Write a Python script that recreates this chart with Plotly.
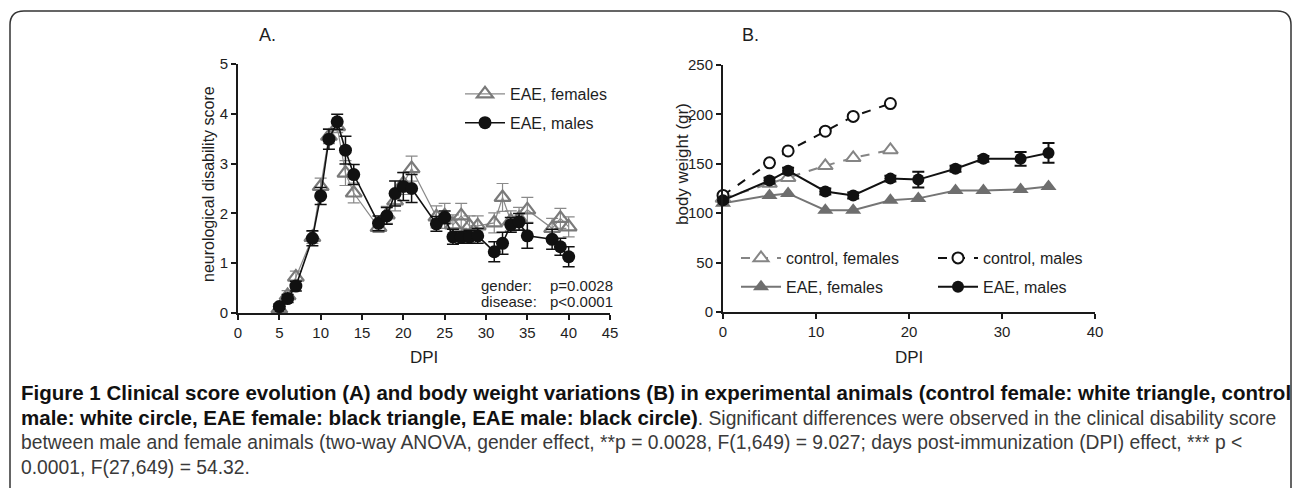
import plotly.graph_objects as go

W, H = 1293, 488

# ---------- Panel A data ----------
dpi_a = [5, 6, 7, 9, 10, 11, 12, 13, 14, 17, 18, 19, 20, 21, 24, 25, 26, 27, 28, 29, 31, 32, 33, 34, 35, 38, 39, 40]
score_males = [0.13, 0.29, 0.54, 1.50, 2.35, 3.49, 3.84, 3.27, 2.78, 1.80, 1.95, 2.40, 2.54, 2.50,
               1.79, 1.92, 1.53, 1.52, 1.53, 1.55, 1.23, 1.40, 1.77, 1.83, 1.55, 1.48, 1.33, 1.13]
sem_males = [0.05, 0.08, 0.10, 0.15, 0.17, 0.20, 0.15, 0.28, 0.20, 0.15, 0.17, 0.25, 0.28, 0.28,
             0.15, 0.13, 0.15, 0.12, 0.13, 0.15, 0.20, 0.22, 0.15, 0.17, 0.25, 0.20, 0.17, 0.20]
score_females = [0.08, 0.35, 0.72, 1.52, 2.54, 3.55, 3.74, 2.81, 2.41, 1.72, 1.97, 2.25, 2.60, 2.90,
                 1.93, 1.95, 1.77, 1.95, 1.75, 1.75, 1.81, 2.32, 1.85, 1.90, 2.07, 1.70, 1.90, 1.73]
sem_females = [0.05, 0.10, 0.12, 0.12, 0.17, 0.15, 0.12, 0.25, 0.20, 0.10, 0.17, 0.20, 0.22, 0.25,
               0.22, 0.25, 0.20, 0.25, 0.20, 0.20, 0.20, 0.28, 0.20, 0.22, 0.25, 0.20, 0.20, 0.20]

# ---------- Panel B data ----------
dpi_ctrl = [0, 5, 7, 11, 14, 18]
bw_ctrl_males = [118, 151, 163, 183, 198, 211]
bw_ctrl_females = [115, 130, 136, 148, 156, 164]
dpi_eae = [0, 5, 7, 11, 14, 18, 21, 25, 28, 32, 35]
bw_eae_males = [113, 133, 143, 122, 118, 135, 134, 145, 155, 155, 161]
sem_eae_males = [2, 3, 3, 3, 3, 3, 8, 3, 3, 7, 10]
bw_eae_females = [110, 118, 120, 103, 103, 113, 115, 123, 123, 124, 127]

x_ticks_a = [0, 5, 10, 15, 20, 25, 30, 35, 40, 45]
y_ticks_a = [0, 1, 2, 3, 4, 5]
x_ticks_b = [0, 10, 20, 30, 40]
y_ticks_b = [0, 50, 100, 150, 200, 250]

GREY = "#7a7a7a"
BLACK = "#111111"
FONT = "Liberation Sans, Arial, sans-serif"
TXT = "#1e1e1e"


def px(x):
    return x / W


def py(y):
    return 1 - y / H


fig = go.Figure()

# Panel A traces
fig.add_trace(go.Scatter(
    x=dpi_a, y=score_females, mode="lines+markers", name="EAE, females",
    line=dict(color="#8a8a8a", width=1.2),
    marker=dict(symbol="triangle-up-open", size=14, color=GREY, line=dict(width=2.2, color=GREY)),
    error_y=dict(type="data", array=sem_females, color="#8a8a8a", thickness=1.2, width=6),
    xaxis="x", yaxis="y", legend="legend", legendgroup="af", cliponaxis=False))
fig.add_trace(go.Scatter(
    x=dpi_a, y=score_males, mode="lines+markers", name="EAE, males",
    line=dict(color=BLACK, width=1.6),
    marker=dict(symbol="circle", size=13, color=BLACK),
    error_y=dict(type="data", array=sem_males, color=BLACK, thickness=1.5, width=6),
    xaxis="x", yaxis="y", legend="legend", legendgroup="am", cliponaxis=False))

# Panel B traces
fig.add_trace(go.Scatter(
    x=dpi_ctrl, y=bw_ctrl_females, mode="lines+markers", name="control, females",
    line=dict(color="#858585", width=2, dash="dash"),
    marker=dict(symbol="triangle-up", size=13, color="white", line=dict(width=2, color="#858585")),
    xaxis="x2", yaxis="y2", legend="legend2", legendgroup="cf", cliponaxis=False))
fig.add_trace(go.Scatter(
    x=dpi_eae, y=bw_eae_females, mode="lines+markers", name="EAE, females",
    line=dict(color="#757575", width=2),
    marker=dict(symbol="triangle-up", size=14, color="#6e6e6e"),
    xaxis="x2", yaxis="y2", legend="legend2", legendgroup="ef", cliponaxis=False))
fig.add_trace(go.Scatter(
    x=dpi_ctrl, y=bw_ctrl_males, mode="lines+markers", name="control, males",
    line=dict(color=BLACK, width=2, dash="dash"),
    marker=dict(symbol="circle", size=11, color="white", line=dict(width=2, color=BLACK)),
    xaxis="x2", yaxis="y2", legend="legend3", legendgroup="cm", cliponaxis=False))
fig.add_trace(go.Scatter(
    x=dpi_eae, y=bw_eae_males, mode="lines+markers", name="EAE, males",
    line=dict(color=BLACK, width=2),
    marker=dict(symbol="circle", size=12, color=BLACK),
    error_y=dict(type="data", array=sem_eae_males, color=BLACK, thickness=2, width=6),
    xaxis="x2", yaxis="y2", legend="legend3", legendgroup="em", cliponaxis=False))

axis_common = dict(showline=True, linewidth=2, linecolor="#1a1a1a", ticks="outside", ticklen=5,
                   tickwidth=2, tickcolor="#1a1a1a", showgrid=False, zeroline=False,
                   tickfont=dict(family=FONT, size=15, color=TXT))

legend_common = dict(font=dict(family=FONT, size=16, color=TXT), bgcolor="rgba(0,0,0,0)",
                     traceorder="grouped", tracegroupgap=5, itemwidth=40,
                     xanchor="left", yanchor="top")

fig.update_layout(
    width=W, height=H, margin=dict(l=0, r=0, t=0, b=0, autoexpand=False),
    paper_bgcolor="white", plot_bgcolor="white",
    xaxis=dict(domain=[px(238), px(610)], range=[0, 45], tickvals=x_ticks_a, anchor="y", **axis_common),
    yaxis=dict(domain=[py(313), py(64)], range=[0, 5], tickvals=y_ticks_a, anchor="x", **axis_common),
    xaxis2=dict(domain=[px(723), px(1095)], range=[0, 40], tickvals=x_ticks_b, anchor="y2", **axis_common),
    yaxis2=dict(domain=[py(312), py(65)], range=[0, 250], tickvals=y_ticks_b, anchor="x2", **axis_common),
    legend=dict(x=px(460), y=py(77), **legend_common),
    legend2=dict(x=px(736), y=py(241), **legend_common),
    legend3=dict(x=px(933), y=py(241), **legend_common),
    showlegend=True,
)

ann = []
# panel labels
ann.append(dict(x=px(267), y=py(35), text="A.", font=dict(family=FONT, size=18, color=TXT)))
ann.append(dict(x=px(750), y=py(35), text="B.", font=dict(family=FONT, size=18, color=TXT)))
# axis titles
ann.append(dict(x=px(208), y=py(184), text="neurological disability score", textangle=-90,
                font=dict(family=FONT, size=16, color=TXT)))
ann.append(dict(x=px(682), y=py(164), text="body weight (gr)", textangle=-90,
                font=dict(family=FONT, size=17, color=TXT)))
ann.append(dict(x=px(424), y=py(357), text="DPI", font=dict(family=FONT, size=17, color=TXT)))
ann.append(dict(x=px(909), y=py(357), text="DPI", font=dict(family=FONT, size=17, color=TXT)))
# stats
for yy, lab, val in [(285, "gender:", "p=0.0028"), (301, "disease:", "p<0.0001")]:
    ann.append(dict(x=px(479), y=py(yy), text=lab, xanchor="left", font=dict(family=FONT, size=15, color=TXT)))
    ann.append(dict(x=px(548), y=py(yy), text=val.replace("<", "&lt;"), xanchor="left",
                    font=dict(family=FONT, size=15, color=TXT)))

CAP = "Liberation Sans, Arial, sans-serif"
BOLD = '<b><span style="font-size:20.5px;color:#111111">{}</span></b>'
cap_lines = [
    (392, BOLD.format("Figure 1 Clinical score evolution (A) and body weight variations (B) in experimental animals (control female: white triangle, control")),
    (417, BOLD.format("male: white circle, EAE female: black triangle, EAE male: black circle)") + ". Significant differences were observed in the clinical disability score"),
    (442, "between male and female animals (two-way ANOVA, gender effect, **p = 0.0028, F(1,649) = 9.027; days post-immunization (DPI) effect, *** p &lt;"),
    (467, "0.0001, F(27,649) = 54.32."),
]
for yy, t in cap_lines:
    ann.append(dict(x=px(19), y=py(yy), text=t, xanchor="left", font=dict(family=CAP, size=19.3, color="#3a3a3a")))

for a in ann:
    a.setdefault("xanchor", "center")
    a.update(xref="paper", yref="paper", showarrow=False, yanchor="middle")
fig.update_layout(annotations=ann)

# rounded frame border
L, T, R, B, r = 10, 11, 1291, 500, 14
path = (f"M {px(L)},{py(B)} L {px(L)},{py(T + r)} Q {px(L)},{py(T)} {px(L + r)},{py(T)} "
        f"L {px(R - r)},{py(T)} Q {px(R)},{py(T)} {px(R)},{py(T + r)} L {px(R)},{py(B)}")
fig.add_shape(type="path", path=path, xref="paper", yref="paper",
              line=dict(color="#333", width=1.5), layer="below")

fig.write_html("out.html", config={"displayModeBar": False},
               post_script="document.body.style.margin='0';document.body.style.overflow='hidden';")
